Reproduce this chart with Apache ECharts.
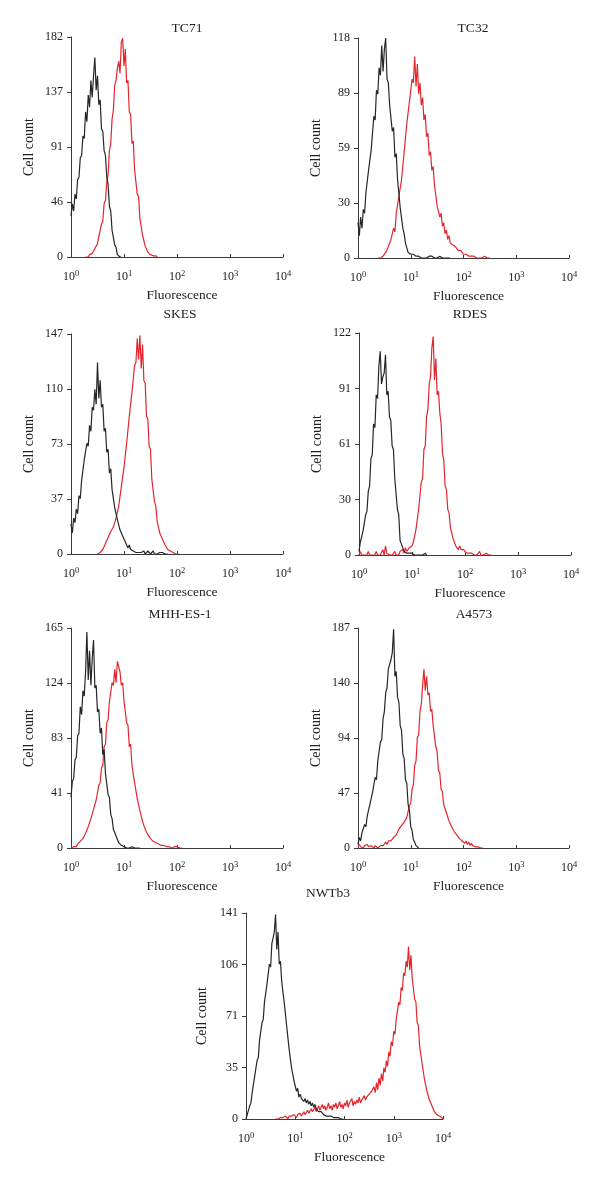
<!DOCTYPE html>
<html><head><meta charset="utf-8">
<script src="https://cdn.jsdelivr.net/npm/echarts@6/dist/echarts.min.js"></script>
<style>html,body{margin:0;padding:0;background:#fff}#c{width:600px;height:1185px}</style>
</head><body><div id="c"></div>
<script>
// ---- data ----
const STEP = 0.025; // channel width in decades
const panelNames = ['TC71','TC32','SKES','RDES','MHH-ES-1','A4573','NWTb3'];
const yMax = [182,118,147,122,165,187,141];
const yTicksTC71 = ['0','46','91','137','182'];
const yTicksTC32 = ['0','30','59','89','118'];
const yTicksSKES = ['0','37','73','110','147'];
const yTicksRDES = ['0','30','61','91','122'];
const yTicksMHH = ['0','41','83','124','165'];
const yTicksA4573 = ['0','47','94','140','187'];
const yTicksNWTb3 = ['0','35','71','106','141'];
const xTickExp = ['0','1','2','3','4'];

const tc71BlackStart = 0;
const tc71Black = [34,44,38,52,48,64,66,82,84,100,98,120,112,134,124,146,132,150,165,138,150,126,130,106,104,88,84,66,60,42,38,22,22,10,8,2,3,0,0];
const tc71RedStart = 0.275;
const tc71Red = [0,1,0,2,1,3,5,5,9,11,17,18,27,30,44,47,62,68,88,94,114,122,142,146,156,162,152,178,181,158,172,144,146,120,118,94,96,72,72,52,50,32,31,18,17,9,9,4,4,2,2,1,0,1,0];

const tc32BlackStart = 0;
const tc32Black = [19,12,22,16,26,24,35,35,47,46,58,58,76,74,90,88,102,98,114,100,112,118,96,94,82,82,68,70,54,56,42,41,27,26,16,13,8,7,3,4,2,1,2,1,1,0,1,1,0,1,0,1,0,0,1,0,1,0,0,1,0,0,1,0,0,1,0,0,0,1,0];
const tc32RedStart = 0.375;
const tc32Red = [0,1,0,1,1,2,3,3,6,5,10,10,16,14,24,24,33,33,42,43,57,56,72,72,84,85,96,94,108,92,104,88,94,82,86,74,77,65,67,55,57,47,49,39,38,28,29,22,24,17,19,13,15,10,12,8,9,7,7,6,6,4,5,4,4,2,3,2,2,1,2,1,0,1,1,0,1,0,1,0,0,1,0,0,1,0];

const skesBlackStart = 0;
const skesBlack = [20,14,24,21,30,27,39,37,49,49,63,62,74,72,86,82,98,96,110,100,128,104,116,98,100,82,84,68,70,54,57,43,43,31,30,23,23,16,17,12,12,8,8,4,6,3,4,2,3,1,2,1,2,1,1,2,0,1,2,1,0,1,2,0,1,0,1,1,0,1,0,0,1,0];
const skesRedStart = 0.5;
const skesRed = [0,1,1,2,3,4,7,8,11,11,15,14,18,18,24,25,32,33,45,46,58,59,74,74,92,92,108,108,126,128,144,130,146,124,140,116,114,92,90,72,70,50,49,35,32,22,21,14,14,10,9,6,6,3,4,2,2,1,1,0,1,0];

const rdesBlackStart = 0;
const rdesBlack = [2,7,6,13,12,22,24,35,38,53,55,72,70,88,86,104,112,94,98,100,110,88,90,76,74,60,58,42,41,25,22,8,6,6,2,3,1,2,1,0,1,1,0,1,0,1,0,1,0,0,1,0];
const rdesRedStart = 0;
const rdesRed = [0,2,0,1,0,1,0,2,0,1,0,1,0,2,0,1,0,1,3,0,5,1,2,0,1,0,1,2,0,1,0,2,1,3,1,4,2,3,4,3,
 5,7,7,14,15,25,26,40,42,58,60,76,80,94,98,114,120,96,108,88,90,78,72,56,52,38,36,25,23,15,14,9,9,5,6,3,5,3,2,3,2,
 1,2,1,0,1,2,0,1,0,1,2,0,1,0,0,1,0,0,1,0];

const mhhBlackStart = 0;
const mhhBlack = [38,50,52,66,68,84,86,106,100,118,114,132,162,126,148,122,142,156,120,122,102,104,86,90,70,74,56,56,40,38,25,22,14,13,9,8,4,4,2,2,1,1,0,1,0,0,1,0,0,1,0,0,0];
const mhhRedStart = 0;
const mhhRed = [0,1,1,2,1,3,3,5,4,7,7,11,11,16,16,22,22,29,29,36,37,47,49,60,62,76,78,94,96,110,110,124,122,134,124,140,140,132,122,124,110,110,94,92,76,78,62,63,49,49,37,36,28,27,20,20,14,15,10,11,7,8,5,6,4,5,3,4,2,3,2,2,1,2,1,1,0,1,1,0,1,0,0,1,0];

const a4573BlackStart = 0;
const a4573Black = [3,9,6,13,12,20,18,27,28,37,36,47,46,60,58,74,75,90,92,110,116,132,136,152,156,160,166,186,146,150,128,124,104,100,80,76,58,55,37,32,18,15,7,5,2,1,0];
const a4573RedStart = 0;
const a4573Red = [1,3,1,2,0,2,1,3,1,0,2,1,0,2,1,0,1,2,1,2,
 3,5,3,6,5,6,6,9,8,11,12,16,16,19,19,22,22,26,
 27,36,38,50,54,70,74,94,96,116,122,138,152,134,146,130,132,116,118,104,104,86,82,66,64,50,48,37,37,30,29,23,23,18,18,14,14,11,11,8,9,6,7,4,6,3,5,2,4,2,2,1,2,1,1,0,1,0];

const nwtBlackStart = 0;
const nwtBlack = [0,3,4,9,11,18,19,29,30,40,42,54,54,66,68,80,80,92,92,106,104,120,124,128,140,116,128,106,108,94,94,80,80,64,63,48,47,35,34,26,26,19,21,15,17,14,15,12,14,11,13,10,12,9,11,8,10,7,8,5,6,5,4,3,4,2,3,2,1,2,1,1,0,1,0,1,0,0,1,0];
const nwtRedStart = 0.6;
const nwtRed = [0,1,0,0,1,0,1,0,2,1,0,2,1,2,1,3,
 2,1,3,2,4,2,3,5,3,4,6,4,5,7,5,6,
 8,5,7,9,6,8,10,7,9,6,8,11,7,9,6,10,
 8,11,7,9,12,8,10,7,11,9,13,8,11,10,14,9,
 12,10,13,11,15,11,13,12,16,13,15,14,17,16,19,18,
 22,18,25,20,28,23,31,26,35,32,40,36,46,43,53,50,
 60,58,68,68,80,78,90,88,100,98,108,104,118,102,112,96,
 96,82,80,66,64,50,50,38,38,27,28,19,20,13,13,9,
 9,5,6,3,3,2,1,1,0];

// ---- assembly ----
const panelData = [
  {ticks: yTicksTC71, black: [tc71BlackStart, tc71Black], red: [tc71RedStart, tc71Red]},
  {ticks: yTicksTC32, black: [tc32BlackStart, tc32Black], red: [tc32RedStart, tc32Red]},
  {ticks: yTicksSKES, black: [skesBlackStart, skesBlack], red: [skesRedStart, skesRed]},
  {ticks: yTicksRDES, black: [rdesBlackStart, rdesBlack], red: [rdesRedStart, rdesRed]},
  {ticks: yTicksMHH, black: [mhhBlackStart, mhhBlack], red: [mhhRedStart, mhhRed]},
  {ticks: yTicksA4573, black: [a4573BlackStart, a4573Black], red: [a4573RedStart, a4573Red]},
  {ticks: yTicksNWTb3, black: [nwtBlackStart, nwtBlack], red: [nwtRedStart, nwtRed]}
];
const layout = [
  {l:71, t:37, w:212, h:220, tx:187, ty:28, gapY:35},
  {l:358,t:38, w:211, h:220, tx:473, ty:28, gapY:35},
  {l:71, t:334,w:212, h:220, tx:180, ty:314, gapY:35},
  {l:359,t:333,w:212, h:222, tx:470, ty:314, gapY:35},
  {l:71, t:628,w:212, h:220, tx:180, ty:614, gapY:35},
  {l:358,t:628,w:211, h:220, tx:474, ty:614, gapY:35},
  {l:246,t:913,w:197, h:206, tx:328, ty:893, gapY:37}
];
const FONT = '"Liberation Serif", "DejaVu Serif", serif';
const TXT = '#222';
const AX = '#3a3a3a';

function toPoints(start, arr) {
  return arr.map((v, i) => [Math.pow(10, start + i * STEP), v]);
}

const grid = [], xAxis = [], yAxis = [], series = [], graphic = [];
panelData.forEach((p, i) => {
  const L = layout[i];
  const M = yMax[i];
  grid.push({left: L.l, top: L.t, width: L.w, height: L.h, containLabel: false});
  xAxis.push({
    type: 'log', logBase: 10, min: 1, max: 10000, gridIndex: i,
    name: 'Fluorescence', nameLocation: 'middle', nameGap: 31,
    nameTextStyle: {fontFamily: FONT, fontSize: 13.5, color: TXT, padding: [0,0,0,10]},
    axisLine: {show: true, lineStyle: {color: AX, width: 1}},
    axisTick: {show: true, inside: true, length: 3, lineStyle: {color: AX}},
    minorTick: {show: false},
    splitLine: {show: false},
    axisLabel: {
      margin: 12,
      formatter: v => '{b|10}{s|' + xTickExp[Math.round(Math.log10(v))] + '}',
      rich: {
        b: {fontFamily: FONT, fontSize: 12, color: TXT, lineHeight: 16},
        s: {fontFamily: FONT, fontSize: 8.5, color: TXT, verticalAlign: 'top'}
      }
    }
  });
  yAxis.push({
    type: 'value', min: 0, max: M, interval: M / 4, gridIndex: i,
    name: 'Cell count', nameLocation: 'middle', nameGap: L.gapY,
    nameTextStyle: {fontFamily: FONT, fontSize: 14, color: TXT},
    axisLine: {show: true, lineStyle: {color: AX, width: 1}},
    axisTick: {show: true, inside: false, length: 4, lineStyle: {color: AX}},
    splitLine: {show: false},
    axisLabel: {
      margin: 8, fontFamily: FONT, fontSize: 12, color: TXT,
      formatter: v => p.ticks[Math.round(v / (M / 4))]
    }
  });
  series.push({
    type: 'line', xAxisIndex: i, yAxisIndex: i, showSymbol: false, symbol: 'none',
    data: toPoints(p.red[0], p.red[1]),
    lineStyle: {color: '#e3262d', width: 1.2}, z: 2
  });
  series.push({
    type: 'line', xAxisIndex: i, yAxisIndex: i, showSymbol: false, symbol: 'none',
    data: toPoints(p.black[0], p.black[1]),
    lineStyle: {color: '#262626', width: 1.2}, z: 3
  });
  graphic.push({
    type: 'text', x: L.tx, y: L.ty,
    style: {text: panelNames[i], fontFamily: FONT, fontSize: 13.5, fill: TXT,
            textAlign: 'center', textVerticalAlign: 'middle'}
  });
});

const chart = echarts.init(document.getElementById('c'), null, {renderer: 'canvas'});
chart.setOption({
  backgroundColor: '#fff',
  animation: false,
  grid, xAxis, yAxis, series, graphic
});
</script>
</body></html>
